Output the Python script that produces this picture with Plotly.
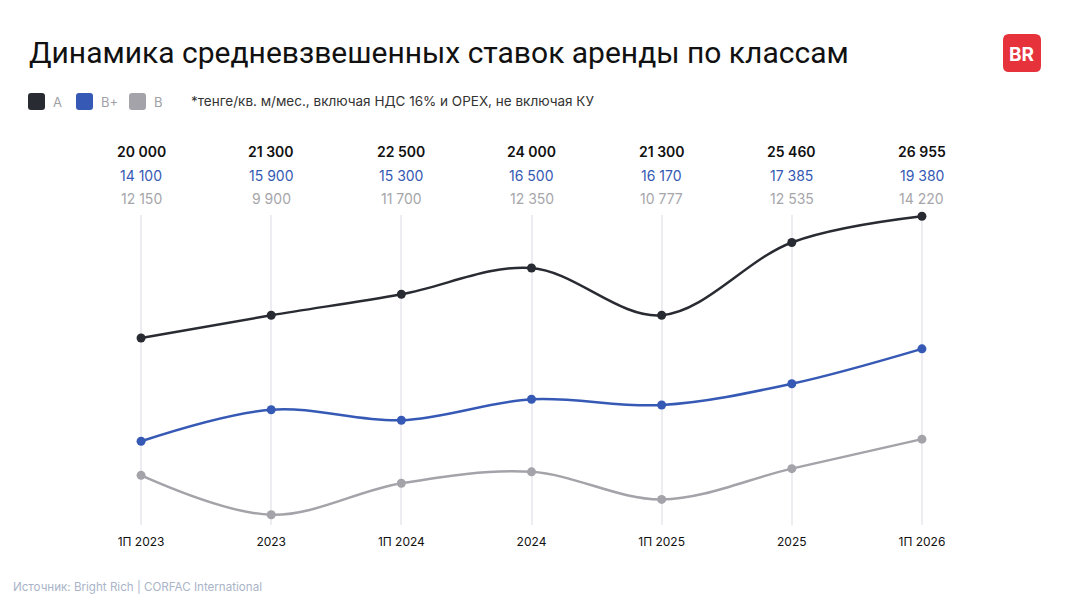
import plotly.graph_objects as go

periods = ["1П 2023", "2023", "1П 2024", "2024", "1П 2025", "2025", "1П 2026"]
class_a = [20000, 21300, 22500, 24000, 21300, 25460, 26955]
class_bplus = [14100, 15900, 15300, 16500, 16170, 17385, 19380]
class_b = [12150, 9900, 11700, 12350, 10777, 12535, 14220]

W, H = 1065, 614


def px(x):
    return x / W


def py(y):
    return 1 - y / H


def fmt(v):
    return f"{v:,}".replace(",", " ")


def rounded(x0, y0, x1, y1, r):
    return (
        f"M {px(x0 + r)} {py(y0)} L {px(x1 - r)} {py(y0)} "
        f"Q {px(x1)} {py(y0)} {px(x1)} {py(y0 + r)} L {px(x1)} {py(y1 - r)} "
        f"Q {px(x1)} {py(y1)} {px(x1 - r)} {py(y1)} L {px(x0 + r)} {py(y1)} "
        f"Q {px(x0)} {py(y1)} {px(x0)} {py(y1 - r)} L {px(x0)} {py(y0 + r)} "
        f"Q {px(x0)} {py(y0)} {px(x0 + r)} {py(y0)} Z"
    )


series = [
    ("A", class_a, "#282b31", "#111111", 600),
    ("B+", class_bplus, "#3559b4", "#3559b4", 400),
    ("B", class_b, "#a3a3a9", "#a6a6aa", 400),
]

fig = go.Figure()
for name, vals, col, _, _ in series:
    fig.add_trace(go.Scatter(
        x=periods, y=vals, name=name, mode="lines+markers",
        line=dict(color=col, width=2.5, shape="spline", smoothing=1),
        marker=dict(color=col, size=9),
        cliponaxis=False, showlegend=False,
        hoverinfo="skip",
    ))

# value labels above the chart
label_rows = [151, 175, 199]
for (name, vals, _, tcol, weight), row in zip(series, label_rows):
    for i, v in enumerate(vals):
        fig.add_annotation(
            x=i, xref="x", y=py(row), yref="paper", yanchor="middle", text=fmt(v),
            showarrow=False, font=dict(size=14, color=tcol, family="Inter", weight=weight),
        )

# title
fig.add_annotation(
    x=px(27), y=py(52), xref="paper", yref="paper", xanchor="left", yanchor="middle",
    text="Динамика средневзвешенных ставок аренды по классам",
    showarrow=False, font=dict(size=30, color="#111111", family="Roboto"),
)

# legend
legend_items = [("A", "#282b31", 28), ("B+", "#3559b4", 76), ("B", "#a3a3a9", 129)]
shapes = []
for lab, col, x0 in legend_items:
    shapes.append(dict(type="path", xref="paper", yref="paper",
                       path=rounded(x0, 93, x0 + 17, 110, 3),
                       fillcolor=col, line=dict(width=0)))
    fig.add_annotation(
        x=px(x0 + 23), y=py(102), xref="paper", yref="paper", xanchor="left", yanchor="middle",
        text=lab, showarrow=False, font=dict(size=13, color="#a0a0a6", family="Inter"),
    )

fig.add_annotation(
    x=px(189), y=py(101), xref="paper", yref="paper", xanchor="left", yanchor="middle",
    text="*тенге/кв. м/мес., включая НДС 16% и OPEX, не включая КУ",
    showarrow=False, font=dict(size=13.5, color="#333333", family="Inter"),
)

# logo
shapes.append(dict(type="path", xref="paper", yref="paper",
                   path=rounded(1003, 34, 1041, 72, 6),
                   fillcolor="#e5323b", line=dict(width=0), layer="below"))
fig.add_annotation(
    x=px(1022), y=py(54), xref="paper", yref="paper", xanchor="center", yanchor="middle",
    text="<b>BR</b>", showarrow=False,
    font=dict(size=19, color="white", family="Inter"),
)

# source
fig.add_annotation(
    x=px(11), y=py(587), xref="paper", yref="paper", xanchor="left", yanchor="middle",
    text="Источник: Bright Rich | CORFAC International",
    showarrow=False, font=dict(size=11.6, color="#aab4c8", family="Inter"),
)

fig.update_layout(
    width=W, height=H, autosize=False,
    margin=dict(l=0, r=0, t=0, b=0),
    paper_bgcolor="white", plot_bgcolor="white",
    shapes=shapes,
    xaxis=dict(
        type="category",
        domain=[px(76), px(987)], range=[-0.5, 6.5],
        showgrid=True, gridcolor="#ececf1", gridwidth=2,
        zeroline=False, showline=False, ticks="", ticklabelstandoff=8,
        tickfont=dict(size=12, color="#111111", family="Inter"),
    ),
    yaxis=dict(
        domain=[py(525), py(215)], range=[9314, 27029],
        showgrid=False, zeroline=False, showticklabels=False,
    ),
)

fig.write_html("out.html", config={"displayModeBar": False},
               post_script="document.body.style.margin='0';")
